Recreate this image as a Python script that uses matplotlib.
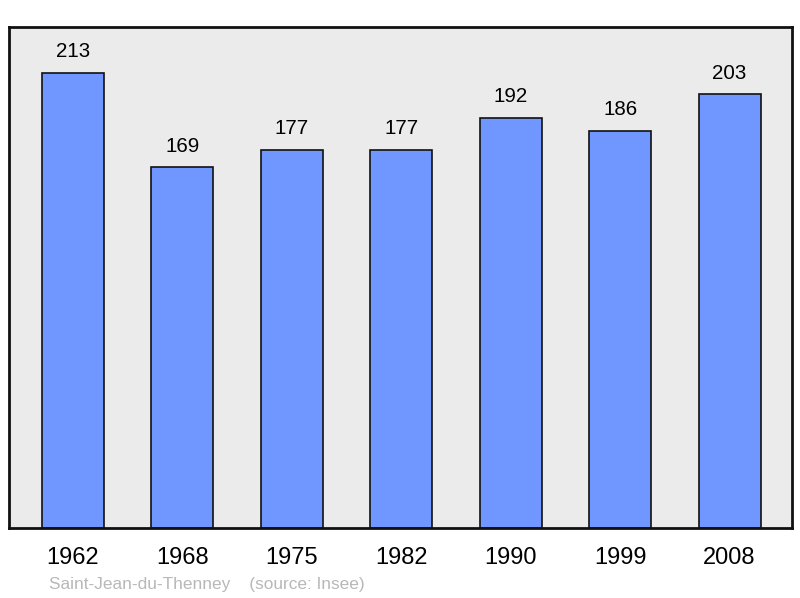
import matplotlib.pyplot as plt

plt.rcParams['font.family'] = ['Liberation Sans', 'DejaVu Sans']

years = ['1962', '1968', '1975', '1982', '1990', '1999', '2008']
population = [213, 169, 177, 177, 192, 186, 203]
commune = 'Saint-Jean-du-Thenney'
source = '(source: Insee)'

fig = plt.figure(figsize=(8, 5.98), dpi=100)
ax = fig.add_axes([9 / 800, 70 / 598, 783 / 800, 501 / 598])
ax.set_facecolor('#ebebeb')

x = range(len(years))
ax.bar(x, population, width=0.567, color='#7097ff', edgecolor='#111111',
       linewidth=1.2, zorder=2)
for i, v in zip(x, population):
    ax.text(i, v + 9.8, str(v), ha='center', va='center', fontsize=14.8)

ax.set_xlim(-0.585, 6.57)
ax.set_ylim(0, 234.5)
ax.set_xticks(list(x))
ax.set_xticklabels(years, fontsize=17)
ax.tick_params(axis='x', length=0, pad=14)
ax.set_yticks([])
for s in ax.spines.values():
    s.set_linewidth(2)
    s.set_color('#111111')

fig.text(49 / 800, 1 - 584 / 598, commune + '    ' + source,
         fontsize=12.4, color='#b8b8b8', va='center', ha='left')

fig.savefig('out.png', dpi=100)
